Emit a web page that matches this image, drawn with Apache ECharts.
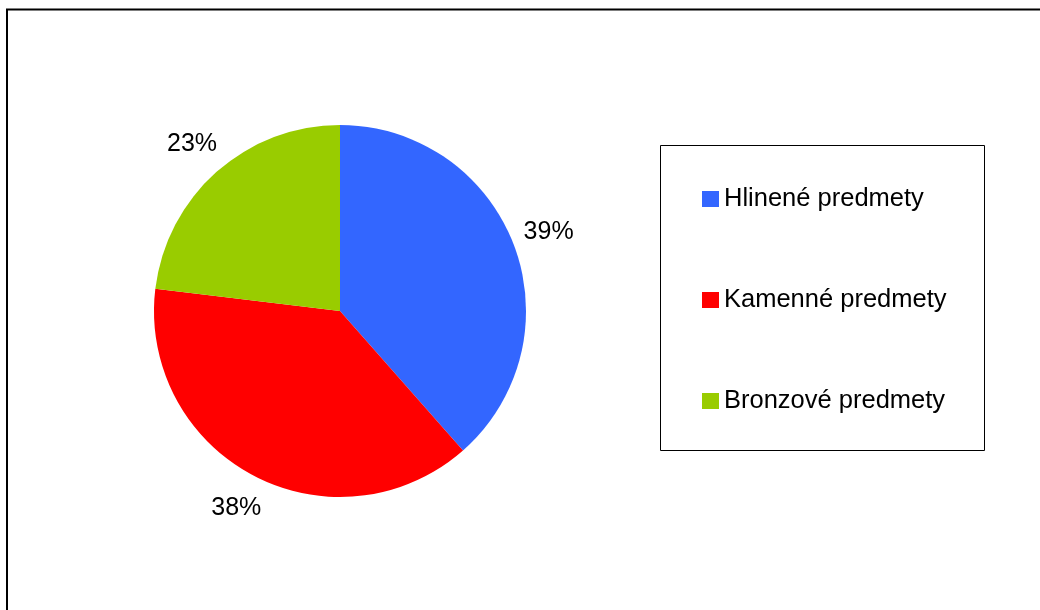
<!DOCTYPE html>
<html>
<head>
<meta charset="utf-8">
<script src="https://cdn.jsdelivr.net/npm/echarts@6/dist/echarts.min.js"></script>
<style>html,body{margin:0;padding:0;background:#fff}#c{width:1040px;height:610px}</style>
</head>
<body>
<div id="c"></div>
<script>
const categories = ['Hlinené predmety', 'Kamenné predmety', 'Bronzové predmety'];
const values = [38.5, 38.4, 23.1];
const colors = ['#3366FF', '#FF0000', '#99CC00'];

const pieData = categories.map((n, i) => ({ name: n, value: values[i], itemStyle: { color: colors[i] } }));
const labelData = categories.map((n, i) => ({ name: n, value: values[i], itemStyle: { color: 'transparent' } }));

const chart = echarts.init(document.getElementById('c'), null, { renderer: 'canvas' });
chart.setOption({
  animation: false,
  backgroundColor: '#fff',
  textStyle: { fontFamily: 'Liberation Sans, Arial, sans-serif' },
  graphic: [
    { type: 'rect', shape: { x: 7, y: 9.5, width: 1100, height: 700 }, style: { fill: 'none', stroke: '#000', lineWidth: 2 }, silent: true, z: 0 },
    { type: 'rect', shape: { x: 660.5, y: 145.5, width: 324, height: 305 }, style: { fill: 'none', stroke: '#000', lineWidth: 1 }, silent: true, z: 0 }
  ],
  legend: {
    orient: 'vertical',
    left: 702,
    top: 186,
    padding: 0,
    itemGap: 75,
    itemWidth: 17,
    itemHeight: 16,
    icon: 'rect',
    data: categories,
    textStyle: { fontSize: 25.5, color: '#000', fontFamily: 'Liberation Sans, Arial, sans-serif' }
  },
  series: [
    {
      type: 'pie',
      center: [340, 311],
      radius: [0, 186],
      startAngle: 90,
      clockwise: true,
      percentPrecision: 0,
      label: { show: false },
      labelLine: { show: false },
      itemStyle: { borderWidth: 0 },
      emphasis: { disabled: true },
      data: pieData
    },
    {
      type: 'pie',
      center: [340, 311],
      radius: [198, 242],
      startAngle: 90,
      clockwise: true,
      percentPrecision: 0,
      silent: true,
      legendHoverLink: false,
      label: {
        show: true,
        position: 'inside',
        formatter: '{d}%',
        fontSize: 25,
        color: '#000',
        fontFamily: 'Liberation Sans, Arial, sans-serif'
      },
      labelLine: { show: false },
      itemStyle: { borderWidth: 0 },
      emphasis: { disabled: true },
      data: labelData
    }
  ]
});
</script>
</body>
</html>
